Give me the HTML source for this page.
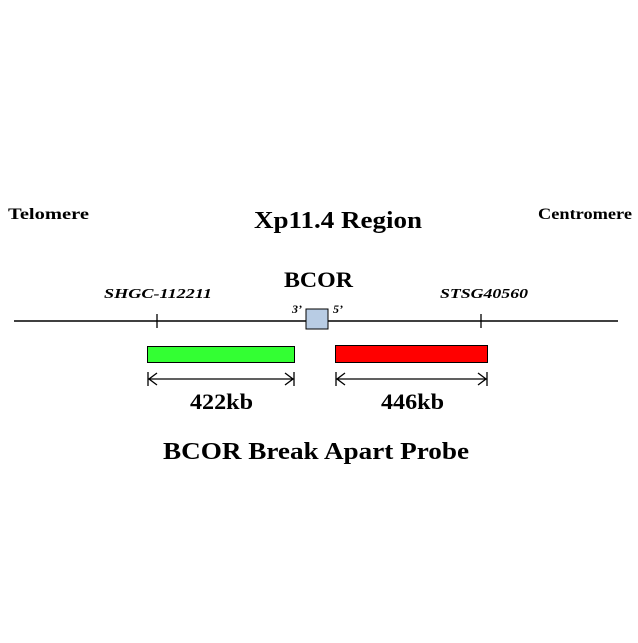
<!DOCTYPE html>
<html><head><style>html,body{margin:0;padding:0;background:#fff;}</style></head>
<body>
<svg width="638" height="638" xmlns="http://www.w3.org/2000/svg" font-family="Liberation Serif, serif" font-weight="bold">
<rect width="638" height="638" fill="#fff"/>
<text x="8" y="219" font-size="16" textLength="81" lengthAdjust="spacingAndGlyphs">Telomere</text>
<text x="538" y="219" font-size="16" textLength="94" lengthAdjust="spacingAndGlyphs">Centromere</text>
<text x="254" y="228" font-size="24" textLength="168" lengthAdjust="spacingAndGlyphs">Xp11.4 Region</text>
<text x="284" y="287" font-size="22" textLength="69" lengthAdjust="spacingAndGlyphs">BCOR</text>
<text x="104" y="298" font-size="14" font-style="italic" textLength="108" lengthAdjust="spacingAndGlyphs">SHGC-112211</text>
<text x="440" y="298" font-size="14" font-style="italic" textLength="88" lengthAdjust="spacingAndGlyphs">STSG40560</text>
<text x="292" y="313" font-size="12" font-style="italic">3’</text>
<text x="333" y="313" font-size="12" font-style="italic">5’</text>
<line x1="14" y1="321" x2="618" y2="321" stroke="#000" stroke-width="1.5"/>
<line x1="157" y1="314" x2="157" y2="328" stroke="#000" stroke-width="1.3"/>
<line x1="481" y1="314" x2="481" y2="328" stroke="#000" stroke-width="1.3"/>
<rect x="306" y="309" width="22" height="20" fill="#b8cce4" stroke="#000" stroke-width="1"/>
<rect x="147.5" y="346.5" width="147" height="16" fill="#33ff33" stroke="#000" stroke-width="1"/>
<rect x="335.5" y="345.5" width="152" height="17" fill="#ff0000" stroke="#000" stroke-width="1"/>
<g stroke="#000" stroke-width="1.3" fill="none">
<line x1="148" y1="379" x2="294" y2="379"/>
<line x1="148" y1="372" x2="148" y2="386"/><line x1="294" y1="372" x2="294" y2="386"/>
<polyline points="157,373 149,379 157,385"/><polyline points="285,373 293,379 285,385"/>
<line x1="336" y1="379" x2="487" y2="379"/>
<line x1="336" y1="372" x2="336" y2="386"/><line x1="487" y1="372" x2="487" y2="386"/>
<polyline points="345,373 337,379 345,385"/><polyline points="478,373 486,379 478,385"/>
</g>
<text x="190" y="409" font-size="22" textLength="63" lengthAdjust="spacingAndGlyphs">422kb</text>
<text x="381" y="409" font-size="22" textLength="63" lengthAdjust="spacingAndGlyphs">446kb</text>
<text x="163" y="459" font-size="24" textLength="306" lengthAdjust="spacingAndGlyphs">BCOR Break Apart Probe</text>
</svg>
</body></html>
